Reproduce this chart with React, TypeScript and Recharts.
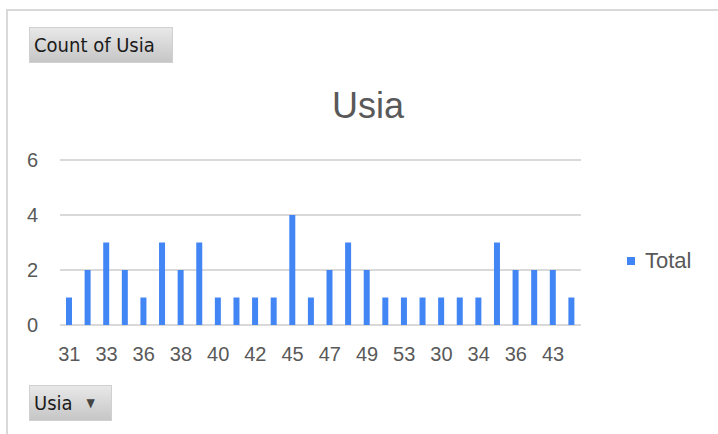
import React from "react";
import { BarChart, Bar, XAxis, YAxis, CartesianGrid } from "recharts";

// Age values (categories) in pivot order
const ageCategories: string[] = [
  "31", "32", "33", "35", "36", "37", "38", "39", "40", "41",
  "42", "44", "45", "46", "47", "48", "49", "50", "53", "54",
  "30", "33", "34", "35", "36", "40", "43", "44",
];

// Count of Usia for each category
const countValues: number[] = [
  1, 2, 3, 2, 1, 3, 2, 3, 1, 1,
  1, 1, 4, 1, 2, 3, 2, 1, 1, 1,
  1, 1, 1, 3, 2, 2, 2, 1,
];

const yTicks: number[] = [0, 2, 4, 6];
const seriesName = "Total";

const data = ageCategories.map((usia, i) => ({ usia, [seriesName]: countValues[i] }));

const TEXT = "#595959";
const BLUE = "#4285f4";
const GRID = "#d9d9d9";
const FONT = "'Liberation Sans', Arial, sans-serif";

const buttonStyle: React.CSSProperties = {
  position: "absolute",
  background: "linear-gradient(#e8e8e8, #c6c6c6)",
  border: "1px solid #d0d0d0",
  boxSizing: "border-box",
  fontFamily: "'DejaVu Sans Condensed', 'DejaVu Sans', sans-serif",
  fontSize: 20,
  color: "#1a1a1a",
  display: "flex",
  alignItems: "center",
};

export default function App() {
  return (
    <div
      style={{
        position: "absolute",
        left: 0,
        top: 0,
        width: 718,
        height: 434,
        background: "#ffffff",
        overflow: "hidden",
      }}
    >
      {/* chart frame */}
      <div
        style={{
          position: "absolute",
          left: 6,
          top: 9,
          width: 740,
          height: 460,
          borderLeft: `2px solid ${GRID}`,
          borderTop: `2px solid ${GRID}`,
        }}
      />
      <BarChart
        width={718}
        height={434}
        data={data}
        margin={{ top: 160, right: 137, bottom: 79, left: 20 }}
        barCategoryGap={0}
        style={{ position: "absolute", left: 0, top: 0 }}
      >
        <text
          x={368}
          y={105}
          textAnchor="middle"
          dominantBaseline="central"
          fontFamily={FONT}
          fontSize={36}
          fill={TEXT}
        >
          Usia
        </text>
        <CartesianGrid vertical={false} stroke={GRID} strokeWidth={2} />
        <XAxis
          dataKey="usia"
          height={30}
          interval={1}
          axisLine={false}
          tickLine={false}
          tickSize={0}
          tickMargin={22}
          tick={{ fill: TEXT, fontSize: 20, fontFamily: FONT }}
        />
        <YAxis
          width={40}
          domain={[0, 6]}
          ticks={yTicks}
          axisLine={false}
          tickLine={false}
          tickSize={0}
          tickMargin={22}
          tick={{ fill: TEXT, fontSize: 20, fontFamily: FONT }}
        />
        <Bar dataKey={seriesName} fill={BLUE} barSize={6} isAnimationActive={false} />
      </BarChart>
      {/* legend */}
      <div
        style={{
          position: "absolute",
          left: 627,
          top: 248,
          display: "flex",
          alignItems: "center",
          fontFamily: FONT,
          fontSize: 22,
          color: TEXT,
        }}
      >
        <span style={{ width: 8, height: 8, background: BLUE, display: "inline-block", marginRight: 10 }} />
        {seriesName}
      </div>
      <div style={{ ...buttonStyle, left: 29, top: 27, width: 144, height: 36, paddingLeft: 4 }}>
        Count of Usia
      </div>
      <div style={{ ...buttonStyle, left: 29, top: 385, width: 83, height: 36, paddingLeft: 4 }}>
        Usia
        <span style={{ fontSize: 12, color: "#444", marginLeft: 14 }}>▼</span>
      </div>
    </div>
  );
}
